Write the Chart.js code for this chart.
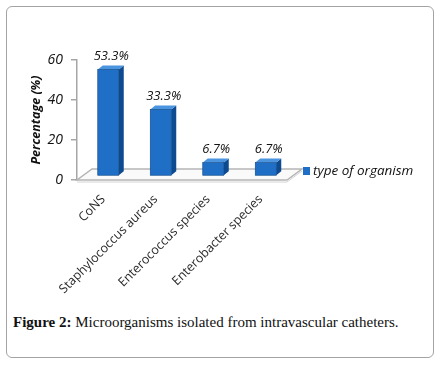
<!DOCTYPE html>
<html>
<head>
<meta charset="utf-8">
<script src="https://cdn.jsdelivr.net/npm/chart.js@4.4.1/dist/chart.umd.min.js"></script>
<style>
  body { margin: 0; background: #fff; width: 442px; height: 365px; position: relative; overflow: hidden; }
  .frame { position: absolute; left: 6px; top: 6px; width: 428px; height: 352px; box-sizing: border-box;
           border: 1.5px solid #a3a3a3; border-radius: 6px; }
  #chart { position: absolute; left: 7px; top: 7px; }
  .caption { position: absolute; left: 13px; top: 314px; margin: 0; font-family: "Liberation Serif", serif;
             font-size: 15px; color: #111; white-space: nowrap; }
</style>
</head>
<body>
<div class="frame"></div>
<canvas id="chart" width="427" height="300"></canvas>
<p class="caption"><b>Figure 2:</b> Microorganisms isolated from intravascular catheters.</p>

<script>
// chart data
const categories = ["CoNS", "Staphylococcus aureus", "Enterococcus species", "Enterobacter species"];
const percentages = [53.3, 33.3, 6.7, 6.7];
const valueLabels = ["53.3%", "33.3%", "6.7%", "6.7%"];
const yTicks = [0, 20, 40, 60];
const seriesName = "type of organism";

const FRONT = "#1f6fc6", SIDE = "#0d4a90", TOP = "#4a94e0";
const shift = { x: 5, y: -4 };   // front face offset
const depth = { x: 5, y: -4 };   // bar depth
const floorDepth = { x: 15, y: -11 };

Chart.defaults.font.family = "'Open Sans', sans-serif";

// floor of the 3d plot
const floorPlugin = {
  id: "floor",
  beforeDatasetsDraw(chart) {
    const { ctx, chartArea: a } = chart;
    ctx.save();
    ctx.strokeStyle = "#b5b5b5";
    ctx.lineWidth = 1.5;
    ctx.fillStyle = "#fafafa";
    ctx.beginPath();
    ctx.moveTo(a.left, a.bottom);
    ctx.lineTo(a.right, a.bottom);
    ctx.lineTo(a.right + floorDepth.x, a.bottom + floorDepth.y);
    ctx.lineTo(a.left + floorDepth.x, a.bottom + floorDepth.y);
    ctx.closePath();
    ctx.fill();
    ctx.stroke();
    // floor thickness
    ctx.beginPath();
    ctx.moveTo(a.left, a.bottom + 2);
    ctx.lineTo(a.right, a.bottom + 2);
    ctx.lineTo(a.right + floorDepth.x, a.bottom + floorDepth.y + 2);
    ctx.strokeStyle = "#d4d4d4";
    ctx.lineWidth = 1;
    ctx.stroke();
    ctx.restore();
  }
};

// 3d boxes + value labels + legend
const boxPlugin = {
  id: "boxes",
  afterDatasetsDraw(chart) {
    const { ctx, chartArea: a } = chart;
    const meta = chart.getDatasetMeta(0);
    ctx.save();
    meta.data.forEach((bar, i) => {
      const w = bar.width;
      const x0 = bar.x - w / 2 + shift.x, x1 = bar.x + w / 2 + shift.x;
      const yt = bar.y + shift.y, yb = bar.base + shift.y;
      // side
      ctx.fillStyle = SIDE;
      ctx.beginPath();
      ctx.moveTo(x1, yt); ctx.lineTo(x1 + depth.x, yt + depth.y);
      ctx.lineTo(x1 + depth.x, yb + depth.y); ctx.lineTo(x1, yb);
      ctx.closePath(); ctx.fill();
      // top
      ctx.fillStyle = TOP;
      ctx.beginPath();
      ctx.moveTo(x0, yt); ctx.lineTo(x0 + depth.x, yt + depth.y);
      ctx.lineTo(x1 + depth.x, yt + depth.y); ctx.lineTo(x1, yt);
      ctx.closePath(); ctx.fill();
      // front
      ctx.fillStyle = FRONT;
      ctx.fillRect(x0, yt, w, yb - yt);
      ctx.strokeStyle = "#0b4584";
      ctx.lineWidth = 0.6;
      ctx.strokeRect(x0, yt, w, yb - yt);

      ctx.fillStyle = "#111";
      ctx.font = "italic 13px 'Open Sans'";
      ctx.textAlign = "center";
      ctx.textBaseline = "middle";
      ctx.fillText(valueLabels[i], bar.x + shift.x + 3, yt - 13);
    });

    // legend
    const lx = a.right + 16, ly = a.bottom - 13;
    ctx.fillStyle = FRONT;
    ctx.fillRect(lx, ly, 7, 8);
    ctx.fillStyle = "#111";
    ctx.font = "italic 13.5px 'Open Sans'";
    ctx.textAlign = "left";
    ctx.textBaseline = "middle";
    ctx.fillText(chart.data.datasets[0].label, lx + 10, ly + 4);
    ctx.restore();
  }
};

new Chart(document.getElementById("chart"), {
  type: "bar",
  data: {
    labels: categories,
    datasets: [{
      label: seriesName,
      data: percentages,
      backgroundColor: "rgba(0,0,0,0)",
      barPercentage: 0.4,
      categoryPercentage: 1
    }]
  },
  options: {
    responsive: false,
    animation: false,
    layout: { padding: { top: 53, right: 147, left: 0, bottom: 0 } },
    plugins: { legend: { display: false }, tooltip: { enabled: false } },
    scales: {
      x: {
        grid: { display: false },
        border: { display: false },
        ticks: { minRotation: 45, maxRotation: 45, color: "#2a2a2a", font: { size: 12.5 }, padding: 4 },
        afterFit(scale) { scale.height = 127; }
      },
      y: {
        min: 0,
        max: 60,
        afterBuildTicks(scale) { scale.ticks = yTicks.map(v => ({ value: v })); },
        grid: { drawOnChartArea: false, drawTicks: true, tickLength: 6, color: "#a6a6a6", lineWidth: 1.5 },
        border: { display: true, color: "#a6a6a6", width: 1.5 },
        ticks: { color: "#111", font: { size: 14, style: "italic" }, padding: 8 },
        title: {
          display: true,
          text: "Percentage (%)",
          color: "#111",
          font: { size: 12.5, style: "italic", weight: "bold" },
          padding: { top: 22, bottom: 0 }
        },
        afterFit(scale) { scale.width = 70; }
      }
    }
  },
  plugins: [floorPlugin, boxPlugin]
});
</script>
</body>
</html>
